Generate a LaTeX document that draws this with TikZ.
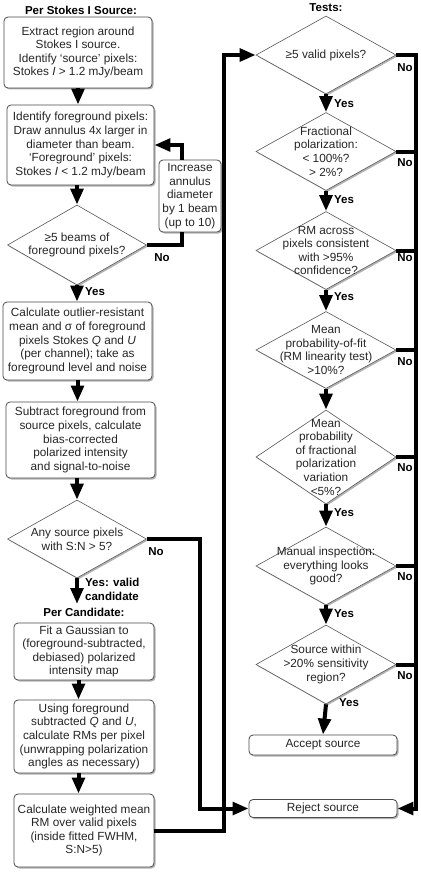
\documentclass[tikz,border=0pt]{standalone}
\usepackage{fontspec}
\setmainfont{Liberation Sans}
\usetikzlibrary{shapes.geometric,arrows.meta,shadows,calc}
\begin{document}
\begin{tikzpicture}[x=1pt,y=1pt,
  every node/.style={font=\fontsize{11.8}{13.6}\selectfont, text=black!85},
  shad/.style={drop shadow={shadow xshift=1.5pt, shadow yshift=-1.5pt, opacity=0.3, fill=black}},
  box/.style={draw=black!70, line width=0.8pt, rounded corners=4pt, fill=white, align=center, inner sep=0pt, shad},
  dia/.style={diamond, draw=black!65, line width=0.6pt, fill=white, inner sep=0pt, minimum width=140pt, shad},
  dtext/.style={align=center, inner sep=0pt},
  ttl/.style={font=\bfseries\fontsize{11.5}{13.6}\selectfont, text=black},
  lbl/.style={font=\bfseries\fontsize{11.5}{13.6}\selectfont, text=black, inner sep=0pt},
  flow/.style={line width=4pt, black},
  arr/.style={flow, -{Triangle[width=12.5pt,length=16pt]}},
]
\useasboundingbox (0,0) rectangle (420,-872);
\fill[white] (0,0) rectangle (420,-872);

% titles
\node[ttl] (ttl1) at (81,-10) {Per Stokes I Source:};
\node[ttl] (ttl2) at (326,-8) {Tests:};
\node[ttl] (ttl3) at (84,-612) {Per Candidate:};

% left column
\node[box, minimum width=148pt, minimum height=71pt] (b1) at (78,-52.5)
  {Extract region around\\Stokes I source.\\Identify ‘source’ pixels:\\Stokes \textit{I} > 1.2 mJy/beam};
\node[box, minimum width=147pt, minimum height=80pt] (b2) at (80.5,-145)
  {Identify foreground pixels:\\Draw annulus 4x larger in\\diameter than beam.\\‘Foreground’ pixels:\\Stokes \textit{I} < 1.2 mJy/beam};
\node[box, minimum width=62pt, minimum height=72pt] (b3) at (190,-196)
  {Increase\\annulus\\diameter\\by 1 beam\\(up to 10)};
\node[dia, minimum width=139pt, minimum height=80pt] (d1) at (77,-245) {};
\node[dtext] (d1t) at (d1) {≥5 beams of\\foreground pixels?};
\node[box, minimum width=149pt, minimum height=78pt] (b4) at (77.5,-341)
  {Calculate outlier-resistant\\mean and σ of foreground\\pixels Stokes \textit{Q} and \textit{U}\\(per channel); take as\\foreground level and noise};
\node[box, minimum width=149pt, minimum height=76pt] (b5) at (80.5,-440)
  {Subtract foreground from\\source pixels, calculate\\bias-corrected\\polarized intensity\\and signal-to-noise};
\node[dia, minimum width=139pt, minimum height=78pt] (d2) at (77,-539) {};
\node[dtext] (d2t) at (d2) {Any source pixels\\with S:N > 5?};
\node[box, minimum width=140pt, minimum height=57pt] (b6) at (84,-651.5)
  {Fit a Gaussian to\\(foreground-subtracted,\\debiased) polarized\\intensity map};
\node[box, minimum width=140pt, minimum height=73pt] (b7) at (84,-736.5)
  {Using foreground\\subtracted \textit{Q} and \textit{U},\\calculate RMs per pixel\\(unwrapping polarization\\angles as necessary)};
\node[box, minimum width=140pt, minimum height=73pt] (b8) at (84,-830.5)
  {Calculate weighted mean\\RM over valid pixels\\(inside fitted FWHM,\\S:N>5)};

% right column
\node[dia, minimum height=78pt] (t1) at (326,-55) {};
\node[dtext] (t1t) at (t1) {≥5 valid pixels?};
\node[dia, minimum height=78pt] (t2) at (326,-151.5) {};
\node[dtext] (t2t) at (t2) {Fractional\\polarization:\\< 100\%?\\> 2\%?};
\node[dia, minimum height=78pt] (t3) at (326,-250.5) {};
\node[dtext] (t3t) at (t3) {RM across\\pixels consistent\\with >95\%\\confidence?};
\node[dia, minimum height=77pt] (t4) at (326,-350) {};
\node[dtext] (t4t) at (t4) {Mean\\probability-of-fit\\(RM linearity test)\\>10\%?};
\node[dia, minimum height=94pt] (t5) at (326,-457) {};
\node[dtext] (t5t) at (t5) {Mean\\probability\\of fractional\\polarization\\variation\\<5\%?};
\node[dia, minimum height=78pt] (t6) at (326,-566) {};
\node[dtext] (t6t) at (t6) {Manual inspection:\\everything looks\\good?};
\node[dia, minimum height=79pt] (t7) at (326,-664.5) {};
\node[dtext] (t7t) at (t7) {Source within\\>20\% sensitivity\\region?};
\node[box, minimum width=148pt, minimum height=20pt] (acc) at (323,-745) {Accept source};
\node[box, minimum width=148pt, minimum height=18pt] (rej) at (323,-808.5) {Reject source};

% helper coordinates
\coordinate (lx) at (181.5,0);
\coordinate (nrail) at (199.5,0);
\coordinate (lrail) at (224,0);
\coordinate (rr) at (416,-808.5);
\coordinate (cand) at (77,-604);

% left column arrows
\draw[arr] (b1.south) -- (b1.south |- b2.north);
\draw[arr] (d1.north |- b2.south) -- (d1.north);
\draw[arr] (d1.south) -- (d1.south |- b4.north);
\draw[arr] (b4.south) -- (b4.south |- b5.north);
\draw[arr] (d2.north |- b5.south) -- (d2.north);
\draw[arr] (d2.south) -- (cand);
\draw[arr] ([xshift=-5.5pt]b6.south) -- ([xshift=-5.5pt]b6.south |- b7.north);
\draw[arr] ([xshift=-5.5pt]b7.south) -- ([xshift=-5.5pt]b7.south |- b8.north);

% loop
\draw[flow] (d1.east) -| (lx |- b3.south);
\draw[arr] (lx |- b3.north) |- (b2.east);

% no from d2
\draw[arr] (d2.east) -| (nrail |- rej.west) -- (rej.west);
% from b8 to tests
\draw[arr] (b8.east) -| (lrail |- t1.west) -- (t1.west);

% right column arrows
\draw[arr] (t1.south) -- (t2.north);
\draw[arr] (t2.south) -- (t3.north);
\draw[arr] (t3.south) -- (t4.north);
\draw[arr] (t4.south) -- (t5.north);
\draw[arr] (t5.south) -- (t6.north);
\draw[arr] (t6.south) -- (t7.north);
\draw[arr] (t7.south) -- (acc.north);

% right rail
\draw[arr] (t1.east) -| (rr) -- (rej.east);
\foreach \t in {t2,t3,t4,t5,t6,t7} \draw[flow] (\t.east) -- (\t.east -| rr);

% labels
\node[lbl] (n1) at (162,-258) {No};
\node[lbl, anchor=west] (y1) at (85,-292) {Yes};
\node[lbl] (n2) at (156,-552) {No};
\node[lbl, anchor=west, align=left] (y2) at (85,-589.5) {Yes: valid\\candidate};
\node[lbl] (tn1) at (405,-68) {No};
\node[lbl] (tn2) at (405,-163) {No};
\node[lbl] (tn3) at (405,-258) {No};
\node[lbl] (tn4) at (405,-362) {No};
\node[lbl] (tn5) at (405,-468) {No};
\node[lbl] (tn6) at (405,-577) {No};
\node[lbl] (tn7) at (405,-676) {No};
\node[lbl, anchor=west] (ty1) at (334,-104) {Yes};
\node[lbl, anchor=west] (ty2) at (334,-200) {Yes};
\node[lbl, anchor=west] (ty3) at (334,-297) {Yes};
\node[lbl, anchor=west] (ty5) at (334,-513) {Yes};
\node[lbl, anchor=west] (ty6) at (334,-614) {Yes};
\node[lbl, anchor=west] (ty7) at (339,-703) {Yes};
\end{tikzpicture}
\end{document}
